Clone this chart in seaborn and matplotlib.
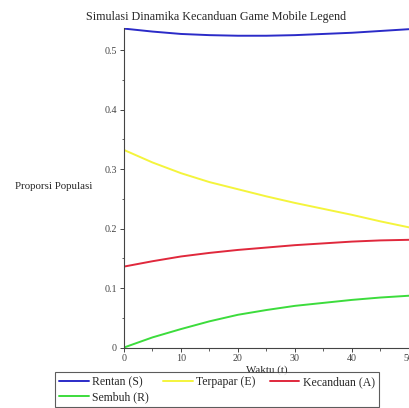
import numpy as np
import pandas as pd
import matplotlib
matplotlib.use("Agg")
import matplotlib.pyplot as plt
from matplotlib.ticker import MultipleLocator
import seaborn as sns

# values (t every 5 units)
waktu = [0, 5, 10, 15, 20, 25, 30, 35, 40, 45, 50]
rentan = [0.536, 0.531, 0.527, 0.525, 0.524, 0.524, 0.525, 0.527, 0.529, 0.532, 0.535]
terpapar = [0.332, 0.311, 0.293, 0.278, 0.266, 0.254, 0.243, 0.233, 0.223, 0.212, 0.202]
kecanduan = [0.136, 0.145, 0.153, 0.159, 0.164, 0.168, 0.172, 0.175, 0.178, 0.180, 0.181]
sembuh = [0.0, 0.017, 0.031, 0.044, 0.055, 0.063, 0.070, 0.075, 0.080, 0.084, 0.087]

labels = ["Rentan (S)", "Terpapar (E)", "Kecanduan (A)", "Sembuh (R)"]
colors = ["#2b2bc8", "#f4f43c", "#e0283c", "#3cdc3c"]
yticks = [0, 0.1, 0.2, 0.3, 0.4, 0.5]
ytick_labels = ["0", "0.1", "0.2", "0.3", "0.4", "0.5"]

df = pd.concat([
    pd.DataFrame({"t": waktu, "v": vals, "kel": lab})
    for vals, lab in zip([rentan, terpapar, kecanduan, sembuh], labels)
])

sns.set_style("ticks")
plt.rcParams["font.family"] = ["Liberation Serif", "DejaVu Serif"]

fig = plt.figure(figsize=(4.1, 4.08), dpi=100)
ax = fig.add_axes([124 / 410, 1 - 347.5 / 408, 286 / 410, 319.5 / 408])

sns.lineplot(data=df, x="t", y="v", hue="kel", hue_order=labels,
             palette=colors, linewidth=1.4, ax=ax, legend=False)

ax.set_xlim(0, 50.2)
ax.set_ylim(0, 0.537)
ax.xaxis.set_major_locator(MultipleLocator(10))
ax.xaxis.set_minor_locator(MultipleLocator(5))
ax.set_yticks(yticks, ytick_labels)
ax.yaxis.set_minor_locator(MultipleLocator(0.05))
ax.tick_params(which="major", length=3, width=0.7, labelsize=7.2,
               colors="#444444", pad=2)
ax.tick_params(which="minor", length=1.8, width=0.6, colors="#444444")
for s in ["top", "right"]:
    ax.spines[s].set_visible(False)
for s in ["left", "bottom"]:
    ax.spines[s].set_color("#444444")
    ax.spines[s].set_linewidth(0.8)

ax.set_xlabel("Waktu (t)", fontsize=7.8)
ax.xaxis.set_label_coords(0.5, -0.056)
ax.set_ylabel("Proporsi Populasi", fontsize=7.8, rotation=0, ha="right", va="center")
ax.yaxis.set_label_coords(-0.11, 0.505)

fig.text(216 / 410, 1 - 17 / 408, "Simulasi Dinamika Kecanduan Game Mobile Legend",
         ha="center", va="center", fontsize=8.7)

# matplotlib fills legend columns first, so reorder to get row-wise layout
order = [0, 3, 1, 2]
handles = [plt.Line2D([], [], color=colors[i], lw=1.4) for i in order]
leg = fig.legend(handles, [labels[i] for i in order], loc="upper left", ncol=3,
                 bbox_to_anchor=(55 / 410, 1 - 372 / 408),
                 fontsize=8.5, frameon=True, fancybox=False,
                 borderpad=0.35, handlelength=2.5, columnspacing=1.2,
                 labelspacing=0.25, handletextpad=0.3, borderaxespad=0)
leg.get_frame().set_edgecolor("#333333")
leg.get_frame().set_linewidth(0.8)

fig.savefig("out.png", dpi=100)
